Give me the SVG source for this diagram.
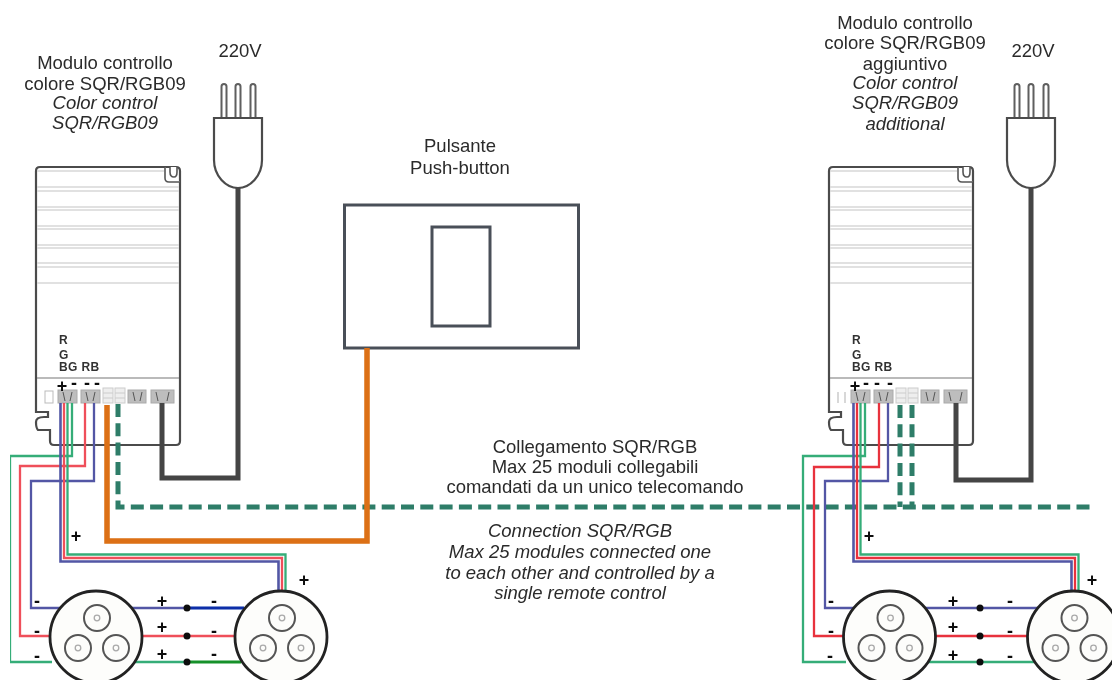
<svg xmlns="http://www.w3.org/2000/svg" width="1112" height="680" viewBox="0 0 1112 680">
<style>
text{font-family:"Liberation Sans",Arial,sans-serif;fill:#2b2b2b}
.l{font-size:18.500px;text-anchor:middle}
.i{font-style:italic}
.s{font-weight:bold;font-size:18px;text-anchor:middle;fill:#111}
.rgb{font-weight:bold;font-size:12px;fill:#333;letter-spacing:.4px}
.w{fill:none;stroke-width:2.300;stroke-linejoin:miter}
.gr{stroke:#35ad78}.re{stroke:#ef4f5a}.re2{stroke:#e8323c}.bl{stroke:#5257a5}
.thick{stroke-width:2.600}
.dbl{stroke:#0a2fa8;stroke-width:3;fill:none}.dgr{stroke:#14912a;stroke-width:3;fill:none}
.dash{fill:none;stroke:#2e7d68;stroke-width:5;stroke-dasharray:13 6.300}
.pw{fill:none;stroke:#444;stroke-width:5}
.or{fill:none;stroke:#dc6f12;stroke-width:5.500}
.body{fill:#fff;stroke:#4c4c4c;stroke-width:2.200}
.rib{stroke:#d8d8d8;stroke-width:1.500}
.tb{fill:#bdbdbd;stroke:#aaa;stroke-width:1}
.ts{fill:#eee;stroke:#ccc;stroke-width:1}
.lamp{fill:#fdfdfb;stroke:#222;stroke-width:2.800}
.cup{fill:none;stroke:#555;stroke-width:2}
.core{fill:none;stroke:#aaa;stroke-width:1.300}
.pin{fill:#fff;stroke:#5e5e5e;stroke-width:2}
</style>
<defs>
<filter id="soft" x="0" y="0" width="100%" height="100%"><feGaussianBlur stdDeviation="0.450"/></filter>
<g id="mod">
<path class="body" d="M36 171Q36 167 40 167H176Q180 167 180 171V441Q180 445 176 445H54Q50 445 50 441V430H38Q36 428 36 422Q36 417 44 417H48V412H36Z"/>
<path d="M165 167V178Q165 182 169 182H180M170 167V172Q170 177 174 177Q177 177 177 172V167" fill="#fff" stroke="#555" stroke-width="1.600"/>
<path class="rib" d="M37 171H164M37 187H179M37 191H179M37 207H179M37 210H179M37 226H179M37 229H179M37 245H179M37 248H179M37 263H179M37 267H179M37 283H179"/>
<path d="M37 378H179" stroke="#777" stroke-width="1.200"/>
<text class="rgb" x="59" y="344">R</text><text class="rgb" x="59" y="359">G</text><text class="rgb" x="59" y="371">BG RB</text>
<rect class="tb" x="58" y="390" width="19" height="13"/><rect class="tb" x="81" y="390" width="19" height="13"/>
<rect class="ts" x="103" y="388" width="10" height="15"/><rect class="ts" x="115" y="388" width="10" height="15"/>
<path d="M103 393H113M103 398H113M115 393H125M115 398H125" stroke="#ccc"/>
<rect class="tb" x="128" y="390" width="18" height="13"/><rect class="tb" x="151" y="390" width="23" height="13"/>
<path d="M63 392l2 9M72 392l-2 9M86 392l2 9M95 392l-2 9M133 392l2 9M142 392l-2 9M156 392l2 9M169 392l-2 9" stroke="#555" stroke-width="1"/>
</g>
<g id="plug">
<rect class="pin" x="221.500" y="84" width="5" height="36" rx="2.500"/><rect class="pin" x="235.500" y="84" width="5" height="36" rx="2.500"/><rect class="pin" x="250.500" y="84" width="5" height="36" rx="2.500"/>
<path class="body" d="M214 118H262V160C262 176 250 188 238 188C226 188 214 176 214 160Z" fill="#fdfdf9"/>
</g>
<g id="lamp">
<circle class="lamp" cx="96" cy="637" r="46"/>
<circle class="cup" cx="97" cy="618" r="13"/><circle class="cup" cx="78" cy="648" r="13"/><circle class="cup" cx="116" cy="648" r="13"/>
<circle class="core" cx="97" cy="618" r="2.800"/><circle class="core" cx="78" cy="648" r="2.800"/><circle class="core" cx="116" cy="648" r="2.800"/>
</g>
</defs>
<rect width="1112" height="680" fill="#fff"/>
<g filter="url(#soft)">
<g id="module-left"><use href="#mod"/>
<rect x="45" y="391" width="8" height="12" fill="#fff" stroke="#bbb"/></g>
<g id="module-right"><use href="#mod" x="793"/>
<path d="M838 392V403M845 392V403" stroke="#ccc" stroke-width="1.500"/></g>
<g id="plug-left"><use href="#plug"/></g>
<g id="plug-right"><use href="#plug" x="793"/></g>
<g id="pushbutton">
<rect x="344.500" y="205" width="234" height="143" fill="#fff" stroke="#4a4f58" stroke-width="3"/>
<rect x="432" y="227" width="58" height="99" fill="#fff" stroke="#4a4f58" stroke-width="3"/>
</g>

<g id="connectors">
<path class="pw" d="M238 188V478H162V403"/>
<path class="pw" d="M1031 188V480H956V403"/>
<path class="dash" d="M118 404V507H1092"/>
<path class="dash" d="M900 405V507M912 405V507"/>
<path class="or" d="M367 348V541H107V405"/>
<path class="w gr" d="M72 403V456H10V662H52"/>
<path class="w re" d="M85 403V466H20V636H50"/>
<path class="w bl" d="M94 403V481H31V608H60"/>
<path class="w gr" d="M67.500 403V554.500H285.500V591"/>
<path class="w re" d="M64 403V558H282V591"/>
<path class="w bl thick" d="M60.500 403V561.500H278.500V592"/>
<path class="w bl" d="M131 608H187"/><path class="dbl" d="M187 608H244"/>
<path class="w re" d="M142 636H235"/>
<path class="w gr" d="M133 662H187"/><path class="dgr" d="M187 662H241"/>
<path class="w gr" d="M865 403V456H803V662H846"/>
<path class="w re2" d="M879 403V467H814V636H844"/>
<path class="w bl" d="M888 403V481H825V608H853"/>
<path class="w gr" d="M860.500 403V554.500H1078.500V591"/>
<path class="w re2" d="M857 403V558H1075V591"/>
<path class="w bl thick" d="M853.500 403V561.500H1071.500V592"/>
<path class="w bl" d="M925 608H1038"/>
<path class="w re2" d="M935 636H1028"/>
<path class="w gr" d="M926 662H1036"/>
</g>

<g id="lamps">
<g id="lamp-1"><use href="#lamp"/></g>
<g id="lamp-2"><use href="#lamp" x="185"/></g>
<g id="lamp-3"><use href="#lamp" x="793.500"/></g>
<g id="lamp-4"><use href="#lamp" x="977.500"/></g>
</g>
<g id="junctions" fill="#111">
<circle cx="187" cy="608" r="3.500"/><circle cx="187" cy="636" r="3.500"/><circle cx="187" cy="662" r="3.500"/>
<circle cx="980" cy="608" r="3.500"/><circle cx="980" cy="636" r="3.500"/><circle cx="980" cy="662" r="3.500"/>
</g>

<g id="polarity" transform="translate(0 1)">
<text class="s" x="62" y="391">+</text><text class="s" x="74" y="388">-</text><text class="s" x="87" y="388">-</text><text class="s" x="97" y="388">-</text>
<text class="s" x="855" y="391">+</text><text class="s" x="866" y="388">-</text><text class="s" x="877" y="388">-</text><text class="s" x="890" y="388">-</text>
<text class="s" x="76" y="541">+</text><text class="s" x="304" y="585">+</text>
<text class="s" x="162" y="606">+</text><text class="s" x="162" y="632">+</text><text class="s" x="162" y="659">+</text>
<text class="s" x="37" y="606">-</text><text class="s" x="37" y="636">-</text><text class="s" x="37" y="661">-</text>
<text class="s" x="214" y="606">-</text><text class="s" x="214" y="636">-</text><text class="s" x="214" y="659">-</text>
<text class="s" x="869" y="541">+</text><text class="s" x="1092" y="585">+</text>
<text class="s" x="953" y="606">+</text><text class="s" x="953" y="632">+</text><text class="s" x="953" y="660">+</text>
<text class="s" x="831" y="606">-</text><text class="s" x="831" y="636">-</text><text class="s" x="830" y="661">-</text>
<text class="s" x="1010" y="606">-</text><text class="s" x="1010" y="636">-</text><text class="s" x="1010" y="661">-</text>
</g>

<g id="labels">
<text class="l" x="105" y="69">Modulo controllo</text>
<text class="l" x="105" y="90">colore SQR/RGB09</text>
<text class="l i" x="105" y="109">Color control</text>
<text class="l i" x="105" y="129">SQR/RGB09</text>
<text class="l" x="240" y="57">220V</text>
<text class="l" x="905" y="29">Modulo controllo</text>
<text class="l" x="905" y="49">colore SQR/RGB09</text>
<text class="l" x="905" y="70">aggiuntivo</text>
<text class="l i" x="905" y="89">Color control</text>
<text class="l i" x="905" y="109">SQR/RGB09</text>
<text class="l i" x="905" y="130">additional</text>
<text class="l" x="1033" y="57">220V</text>
<text class="l" x="460" y="152">Pulsante</text>
<text class="l" x="460" y="174">Push-button</text>
<text class="l" x="595" y="453">Collegamento SQR/RGB</text>
<text class="l" x="595" y="473">Max 25 moduli collegabili</text>
<text class="l" x="595" y="493">comandati da un unico telecomando</text>
<text class="l i" x="580" y="537">Connection SQR/RGB</text>
<text class="l i" x="580" y="558">Max 25 modules connected one</text>
<text class="l i" x="580" y="579">to each other and controlled by a</text>
<text class="l i" x="580" y="599">single remote control</text>
</g>
</g>
</svg>
